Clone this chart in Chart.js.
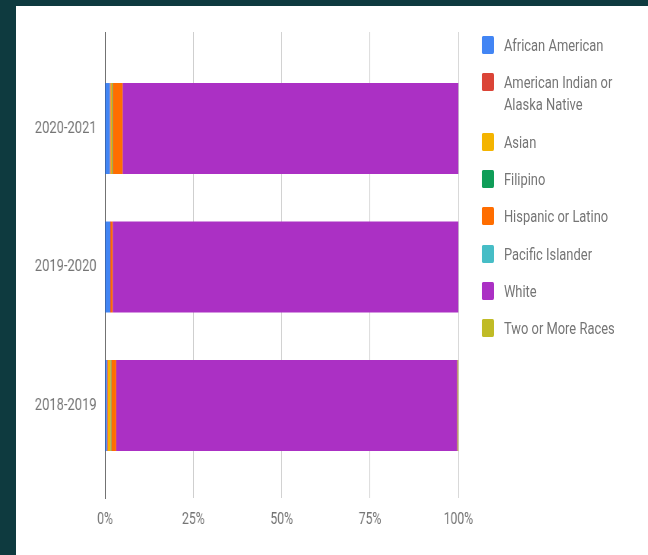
<!DOCTYPE html>
<html>
<head>
<meta charset="utf-8">
<script src="https://cdn.jsdelivr.net/npm/chart.js@4.4.1/dist/chart.umd.min.js"></script>
<style>
  html, body { margin: 0; padding: 0; }
  body { width: 648px; height: 555px; background: #0e3a3f; position: relative; overflow: hidden; }
  #panel { position: absolute; left: 16px; top: 6px; width: 632px; height: 549px; background: #fff; }
  /* the reference is squeezed sideways, so the whole drawing is too */
  #squeeze { position: absolute; left: 0; top: 0; width: 853px; height: 555px; transform: scaleX(0.76); transform-origin: 0 0; }
  #wrap { position: absolute; left: 0; top: 0; width: 640px; height: 555px; }
  #legend { position: absolute; left: 634px; top: 0; font-family: Roboto, sans-serif; font-size: 17px; color: #757575; }
  .item { position: absolute; left: 0; width: 200px; }
  .box { position: absolute; left: 0; width: 16px; height: 18px; border-radius: 2px; }
  .txt { position: absolute; left: 29px; width: 150px; line-height: 22px; }
</style>
</head>
<body>
<div id="panel"></div>
<div id="squeeze">
  <div id="wrap"><canvas id="bars" width="640" height="555"></canvas></div>
  <div id="legend"></div>
</div>
<script>
var years = ['2020-2021', '2019-2020', '2018-2019'];
var groups = ['African American', 'American Indian or Alaska Native', 'Asian', 'Filipino',
              'Hispanic or Latino', 'Pacific Islander', 'White', 'Two or More Races'];
var colors = ['#4285f4', '#db4437', '#f4b400', '#0f9d58', '#ff6d00', '#46bdc6', '#ab30c4', '#c0bb26'];

// percent of students, one array per group, in the order of years
var africanAmerican = [1.4, 1.5, 0.6];
var americanIndian  = [0.2, 0.2, 0.2];
var asian           = [0.4, 0.0, 0.8];
var filipino        = [0.2, 0.0, 0.2];
var hispanic        = [2.8, 0.5, 1.4];
var pacificIslander = [0.0, 0.0, 0.0];
var white           = [95.0, 97.8, 96.5];
var twoOrMore       = [0.0, 0.0, 0.3];

var xTicks = [0, 25, 50, 75, 100];

var series = [africanAmerican, americanIndian, asian, filipino, hispanic, pacificIslander, white, twoOrMore];

var datasets = [];
for (var i = 0; i < groups.length; i++) {
    datasets.push({
        label: groups[i],
        data: series[i],
        backgroundColor: colors[i],
        borderWidth: 0,
        barPercentage: 0.657,
        categoryPercentage: 1
    });
}

var ctx = document.getElementById('bars').getContext('2d');
var chart = new Chart(ctx, {
    type: 'bar',
    data: { labels: years, datasets: datasets },
    options: {
        indexAxis: 'y',
        responsive: false,
        animation: false,
        layout: { padding: { top: 32, right: 37, left: 0, bottom: 0 } },
        plugins: { legend: { display: false }, tooltip: { enabled: false } },
        scales: {
            x: {
                stacked: true,
                min: 0,
                max: 100,
                afterBuildTicks: function(scale) {
                    scale.ticks = xTicks.map(function(v) { return { value: v }; });
                },
                afterFit: function(scale) { scale.height = 57; },
                grid: {
                    drawTicks: false,
                    color: function(c) { return c.tick && c.tick.value === 0 ? '#333333' : '#cccccc'; }
                },
                border: { display: false },
                ticks: {
                    padding: 12,
                    color: '#757575',
                    font: { family: 'Roboto', size: 16 },
                    callback: function(v) { return v + '%'; }
                }
            },
            y: {
                stacked: true,
                // leave the same empty band above and below the bars as the reference
                afterBuildTicks: function(scale) {
                    scale._startValue = -0.697;
                    scale._valueRange = 3.365;
                },
                afterFit: function(scale) { scale.width = 138; },
                grid: { display: false, drawTicks: false },
                border: { display: true, color: '#333333', width: 1 },
                ticks: {
                    padding: 11,
                    color: '#757575',
                    font: { family: 'Roboto', size: 17 }
                }
            }
        }
    }
});

// legend on the right, one row per group, long names wrap
var legend = document.getElementById('legend');
var legendTop = 34;
for (var j = 0; j < groups.length; j++) {
    var item = document.createElement('div');
    item.className = 'item';
    item.style.top = legendTop + 'px';
    var box = document.createElement('div');
    box.className = 'box';
    box.style.top = '2px';
    box.style.background = colors[j];
    var txt = document.createElement('div');
    txt.className = 'txt';
    txt.textContent = groups[j];
    item.appendChild(box);
    item.appendChild(txt);
    legend.appendChild(item);
    var lines = Math.round(txt.offsetHeight / 22);
    legendTop += 37.3 + 22 * (lines - 1);
}
</script>
</body>
</html>
